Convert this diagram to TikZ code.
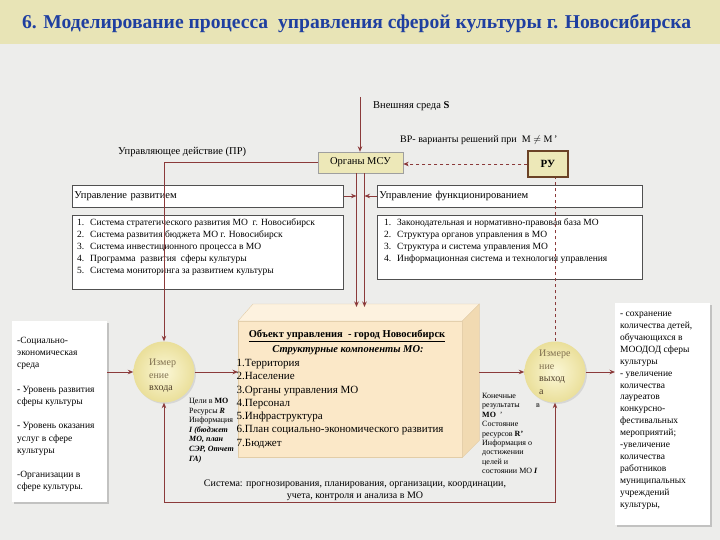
\documentclass[tikz,border=0pt]{standalone}
\usepackage{fontspec}
\setmainfont{Liberation Serif}
\usetikzlibrary{arrows.meta,calc,shadows}
\definecolor{bg}{HTML}{EDEDEB}
\definecolor{band}{HTML}{E8E4B6}
\definecolor{tblue}{HTML}{1F3FA0}
\definecolor{cline}{HTML}{8B3A3A}
\definecolor{khaki}{HTML}{EDE8B8}
\definecolor{rub}{HTML}{6B4226}
\definecolor{bord}{HTML}{505050}
\definecolor{cfront}{HTML}{FBE8C8}
\definecolor{ctop}{HTML}{FDF2DF}
\definecolor{cside}{HTML}{F1DAB2}
\definecolor{cedge}{HTML}{E2CDA8}
\definecolor{cin}{HTML}{FBF7D6}
\definecolor{cout}{HTML}{EADF9A}
\definecolor{ctext}{HTML}{807050}
\definecolor{cdark}{HTML}{4E3E2A}
\begin{document}
\begin{tikzpicture}[x=1pt,y=-1pt,
  >={Stealth[length=5.5pt,width=4.5pt]},
  conn/.style={draw=cline, line width=0.9pt, ->},
  dconn/.style={conn, dash pattern=on 3.5pt off 2.5pt},
  dline/.style={draw=cline, line width=0.9pt, dash pattern=on 3.5pt off 2.5pt},
  hbox/.style={draw=bord, fill=white, line width=0.8pt, inner xsep=2pt, inner ysep=0pt, align=left, font=\fontsize{10.5}{12}\selectfont},
  plain/.style={inner sep=0pt, align=left},
  whitebox/.style={fill=white, inner sep=0pt, drop shadow={opacity=0.35, shadow xshift=2pt, shadow yshift=-2pt, fill=black!55}},
  circ/.style={circle, minimum size=61pt, inner sep=0pt, inner color=cin, outer color=cout, drop shadow={opacity=0.2, shadow xshift=1.5pt, shadow yshift=-1.5pt}},
  ctxt/.style={plain, font=\fontsize{10}{12.5}\selectfont, text=ctext}
]
\useasboundingbox (0,0) rectangle (720,540);
\fill[bg] (0,0) rectangle (720,540);
\fill[band] (0,0) rectangle (720,44);

\node[font=\bfseries\fontsize{19.6}{22}\selectfont, text=tblue, anchor=west, inner sep=0pt] (title) at (22,24) {6. Моделирование процесса\ \ управления сферой культуры г. Новосибирска};

% top labels and boxes
\coordinate (env) at (360,97);
\node[plain, anchor=west, font=\fontsize{10.5}{12}\selectfont] (envt) at (373,106.5) {Внешняя среда \textbf{S}};
\node[draw=gray!75, fill=khaki, minimum width=85pt, minimum height=21pt, inner sep=0pt, font=\fontsize{10.5}{12}\selectfont] (msu) at (360.5,162.5) {Органы МСУ};
\node[plain, anchor=west, font=\fontsize{10.5}{12}\selectfont] (upr) at (118,152) {Управляющее действие (ПР)};
\node[plain, anchor=west, font=\fontsize{10}{12}\selectfont] (vr) at (400,140) {ВР- варианты решений при\ \ M $\neq$ M\,'};
\node[draw=rub, line width=1.3pt, fill=khaki, minimum width=40pt, minimum height=26pt, inner sep=0pt, font=\bfseries\fontsize{11}{12}\selectfont] (ru) at (548,164) {РУ};

\node[hbox, text width=267pt, minimum height=22pt, anchor=west] (urz) at (72,196) {Управление развитием};
\node[hbox, text width=261pt, minimum height=22pt, anchor=west] (ufn) at (377,196) {Управление функционированием};

\node[hbox, minimum width=271pt, minimum height=74pt, anchor=north west] (ls) at (72,215) {};
\node[plain, anchor=north west, font=\fontsize{9.5}{12}\selectfont] (lst) at (77,218.5) {\makebox[13pt][l]{1.}Система стратегического развития МО\ \ г. Новосибирск\\\makebox[13pt][l]{2.}Система развития бюджета МО г. Новосибирск\\\makebox[13pt][l]{3.}Система инвестиционного процесса в МО\\\makebox[13pt][l]{4.}Программа\ \ развития\ \ сферы культуры\\\makebox[13pt][l]{5.}Система мониторинга за развитием культуры};

\node[hbox, minimum width=265pt, minimum height=64pt, anchor=north west] (rs) at (377,215) {};
\node[plain, anchor=north west, font=\fontsize{9.5}{12}\selectfont] (rst) at (384,218.5) {\makebox[13pt][l]{1.}Законодательная и нормативно-правовая база МО\\\makebox[13pt][l]{2.}Структура органов управления в МО\\\makebox[13pt][l]{3.}Структура и система управления МО\\\makebox[13pt][l]{4.}Информационная система и технология управления};

% side boxes
\node[whitebox, minimum width=95pt, minimum height=181pt, anchor=north west] (lbox) at (12,321) {};
\node[plain, anchor=north west, font=\fontsize{9.5}{12.2}\selectfont] (lboxt) at (17,337) {-Социально-\\экономическая\\среда\\~\\- Уровень развития\\сферы культуры\\~\\- Уровень оказания\\услуг в сфере\\культуры\\~\\-Организации в\\сфере культуры.};

\node[whitebox, minimum width=95pt, minimum height=222pt, anchor=north west] (rbox) at (615,303) {};
\node[plain, anchor=north west, font=\fontsize{9.5}{11.9}\selectfont] (rboxt) at (620,312) {- сохранение\\количества детей,\\обучающихся в\\МООДОД сферы\\культуры\\- увеличение\\количества\\лауреатов\\конкурсно-\\фестивальных\\мероприятий;\\-увеличение\\количества\\работников\\муниципальных\\учреждений\\культуры,};

% cube
\node[draw=cedge, fill=cfront, minimum width=224pt, minimum height=136pt, inner sep=0pt, anchor=north west] (cube) at (238,321) {};
\coordinate (cubeL) at ($(cube.north west)+(15,-17)$);
\coordinate (cubeR) at ($(cube.north east)+(17,-17)$);
\filldraw[fill=ctop, draw=cedge] (cube.north west) -- (cubeL) -- (cubeR) -- (cube.north east) -- cycle;
\filldraw[fill=cside, draw=cedge] (cube.north east) -- (cubeR) -- ($(cube.south east)+(17,-17)$) -- (cube.south east) -- cycle;
\node[plain, font=\bfseries\fontsize{10.5}{12}\selectfont] (ct1) at (347,336) {\underline{Объект управления\ \ - город Новосибирск}};
\node[plain, font=\bfseries\itshape\fontsize{10.5}{12}\selectfont] (ct2) at (348,350) {Структурные компоненты МО:};
\node[plain, anchor=north west, font=\fontsize{11}{13.3}\selectfont] (ct3) at (236.5,359) {1.Территория\\2.Население\\3.Органы управления МО\\4.Персонал\\5.Инфраструктура\\6.План социально-экономического развития\\7.Бюджет};

% circles
\node[circ] (inC) at (164,372) {};
\node[ctxt, anchor=north west] (inCt) at (149,359) {Измер\\ение\\\textcolor{cdark}{входа}};
\node[circ] (outC) at (555,372) {};
\node[ctxt, anchor=north west] (outCt) at (539,350) {Измере\\ние\\\textcolor{cdark}{выход}\\\textcolor{cdark}{а}};

% small texts
\node[plain, anchor=north west, font=\fontsize{8}{9.6}\selectfont] (lt) at (189,398) {Цели в\ \textbf{МО}\\Ресурсы \textbf{\itshape R}\\Информация\\\textbf{\itshape I (бюджет}\\\textbf{\itshape МО, план}\\\textbf{\itshape СЭР, Отчет}\\\textbf{\itshape ГА)}};
\node[plain, anchor=north west, font=\fontsize{8}{9.4}\selectfont] (rt) at (482,393) {Конечные\\результаты\\\textbf{МО}\ \ '\\Состояние\\ресурсов \textbf{R'}\\Информация о\\достижении\\целей и\\состоянии МО \textbf{\itshape I}};
\node[plain, font=\fontsize{8}{9.4}\selectfont] (rtv) at (538,406) {в};
\node[plain, align=center, font=\fontsize{10}{11.6}\selectfont] (bt) at (355,490) {Система: прогнозирования, планирования, организации, координации,\\учета, контроля и анализа в МО};

% connectors
\draw[conn] (env) -- (env |- msu.north);
\draw[conn] (msu.west) -| (inC.north);
\draw[dconn] (ru.west) -- (ru.west -| msu.east);
\draw[dline] (outC.north) -- (outC.north |- ru.south);
\coordinate (mL) at ($(msu.south)+(-4,0)$);
\coordinate (mR) at ($(msu.south)+(4,0)$);
\coordinate (ctopc) at ($(cube.north)+(0,-14)$);
\draw[conn] (mL) -- (mL |- ctopc);
\draw[conn] (mR) -- (mR |- ctopc);
\draw[conn] (urz.east) -- (urz.east -| mL);
\draw[conn] (ufn.west) -- (ufn.west -| mR);
\draw[conn] (lbox.east |- inC) -- (inC.west);
\draw[conn] (inC.east) -- (inC -| cube.west);
\draw[conn] (outC -| cubeR) -- (outC.west);
\draw[conn] (outC.east) -- (outC -| rbox.west);
\coordinate (loopL) at ($(inC.south)+(0,100)$);
\draw[draw=cline, line width=0.9pt, <->] (inC.south) -- (loopL) -- (loopL -| outC) -- (outC.south);
\end{tikzpicture}
\end{document}
